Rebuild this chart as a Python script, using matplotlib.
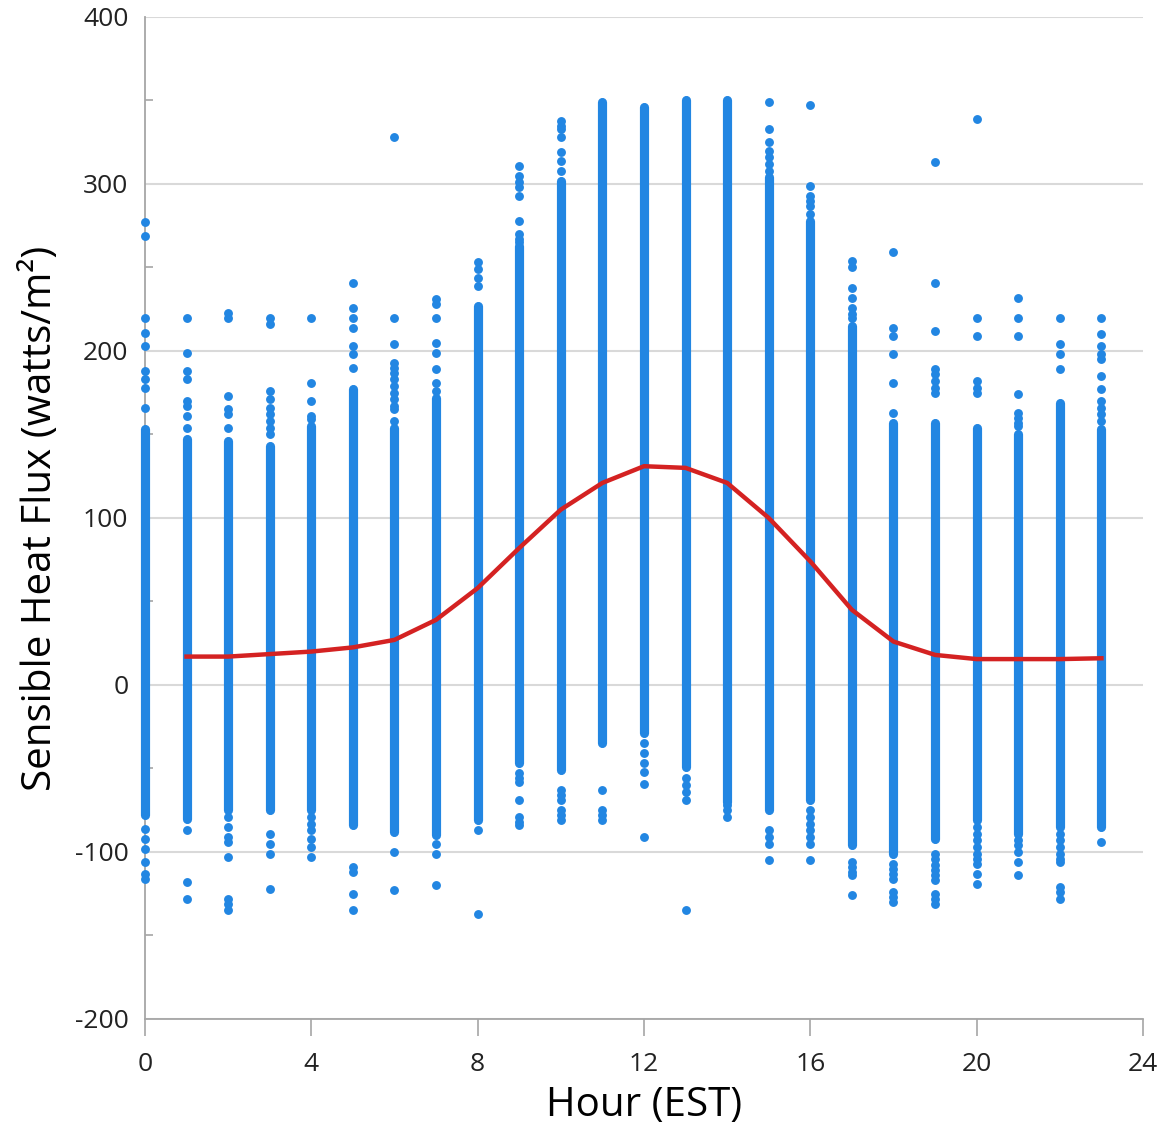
import matplotlib
matplotlib.use("Agg")
import matplotlib.pyplot as plt
from matplotlib.ticker import MultipleLocator

plt.rcParams["axes.unicode_minus"] = False

# ---- data ----
hours = list(range(24))
dense_low = [-78, -80, -75, -75, -75, -84, -88, -90, -81, -47, -51, -35,
             -29, -49, -70, -75, -69, -96, -101, -92, -81, -89, -85, -85]
dense_high = [153, 147, 146, 143, 155, 177, 154, 172, 227, 263, 302, 349,
              346, 350, 350, 304, 278, 215, 157, 157, 154, 150, 169, 153]
outliers = [
    [277, 269, 220, 211, 203, 188, 183, 178, 166, -86, -92, -98, -106, -113, -116],
    [220, 199, 188, 183, 170, 167, 161, 154, -87, -118, -128],
    [223, 220, 173, 165, 162, 154, -79, -85, -91, -94, -103, -128, -131, -135],
    [220, 216, 176, 171, 166, 162, 158, 154, 150, -89, -95, -101, -122],
    [220, 181, 170, 161, 159, -79, -83, -87, -92, -97, -103],
    [241, 226, 220, 214, 203, 198, 190, -109, -112, -125, -135],
    [328, 220, 204, 193, 190, 187, 183, 179, 175, 171, 167, 165, 158, -100, -123],
    [231, 228, 220, 205, 199, 189, 181, 176, -95, -101, -120],
    [253, 249, 244, 239, -87, -137],
    [311, 305, 301, 298, 293, 278, 270, 267, 265, -53, -56, -58, -69, -79, -82, -84],
    [338, 335, 333, 328, 319, 314, 308, -63, -66, -69, -75, -78, -81],
    [-63, -75, -78, -81],
    [-35, -41, -47, -52, -59, -91],
    [-56, -60, -64, -69, -135],
    [-72, -75, -79],
    [349, 333, 325, 320, 316, 312, 308, -87, -91, -95, -105],
    [347, 299, 293, 290, 287, 282, -75, -79, -83, -87, -91, -95, -105],
    [254, 250, 238, 232, 226, 222, 220, -106, -109, -112, -114, -126],
    [259, 214, 209, 198, 181, 163, -107, -110, -113, -116, -124, -127, -130],
    [313, 241, 212, 189, 186, 182, 178, 175, -101, -104, -108, -111, -114, -117, -125, -128, -131],
    [339, 220, 209, 182, 178, 175, -85, -89, -93, -97, -101, -104, -107, -113, -119],
    [232, 220, 209, 174, 163, 160, 157, 155, -93, -96, -100, -106, -114],
    [220, 204, 198, 189, -89, -93, -97, -101, -104, -106, -121, -124, -128],
    [220, 210, 203, 198, 195, 185, 177, 170, 166, 162, 158, -94],
]
mean_hours = list(range(1, 24))
mean_flux = [17, 17, 18.5, 20, 22.5, 27, 39, 58, 82, 105, 121, 131, 130, 121,
             100, 74, 45, 26, 18, 15.5, 15.5, 15.5, 16]
x_ticks = [0, 4, 8, 12, 16, 20, 24]
y_ticks = [-200, -100, 0, 100, 200, 300, 400]

BLUE = "#2286E2"
RED = "#D42222"
FONT = "Open Sans"

fig = plt.figure(figsize=(11.68, 11.48), dpi=100)
ax = fig.add_axes([0.1241, 0.1124, 0.8545, 0.8728])

ax.set_xlim(0, 24)
ax.set_ylim(-200, 400)

ax.yaxis.grid(True, color="#D9D9D9", linewidth=1.5, zorder=0)
ax.set_axisbelow(True)

for h, lo, hi, outs in zip(hours, dense_low, dense_high, outliers):
    ax.plot([h, h], [lo, hi], color=BLUE, linewidth=6.6,
            solid_capstyle="round", zorder=3, clip_on=False)
    ax.plot([h] * len(outs), outs, linestyle="none", marker="o",
            markersize=6.4, color=BLUE, markeredgewidth=0, zorder=3,
            clip_on=False)

ax.plot(mean_hours, mean_flux, color=RED, linewidth=3.2, zorder=4)

for s in ["top", "right"]:
    ax.spines[s].set_visible(False)
ax.spines["left"].set_color("#A6A6A6")
ax.spines["bottom"].set_color("#A6A6A6")
ax.spines["left"].set_linewidth(1.3)
ax.spines["bottom"].set_linewidth(1.3)
ax.spines["left"].set_zorder(2)

ax.set_xticks(x_ticks)
ax.set_yticks(y_ticks)
ax.yaxis.set_minor_locator(MultipleLocator(50))
ax.tick_params(axis="x", which="major", direction="out", length=12,
               width=1.2, color="#A6A6A6", labelsize=19, pad=12)
ax.tick_params(axis="y", which="major", length=0, labelsize=19, pad=12)
ax.tick_params(axis="y", which="minor", direction="in", length=6,
               width=1.2, color="#A6A6A6")
for lab in ax.get_xticklabels() + ax.get_yticklabels():
    lab.set_fontfamily(FONT)
    lab.set_color("#222222")

ax.set_xlabel("Hour (EST)", fontsize=29, fontfamily=FONT, labelpad=6)
ax.set_ylabel("Sensible Heat Flux (watts/m²)", fontsize=29, fontfamily=FONT,
              labelpad=10)

fig.savefig("out.png", dpi=100)
